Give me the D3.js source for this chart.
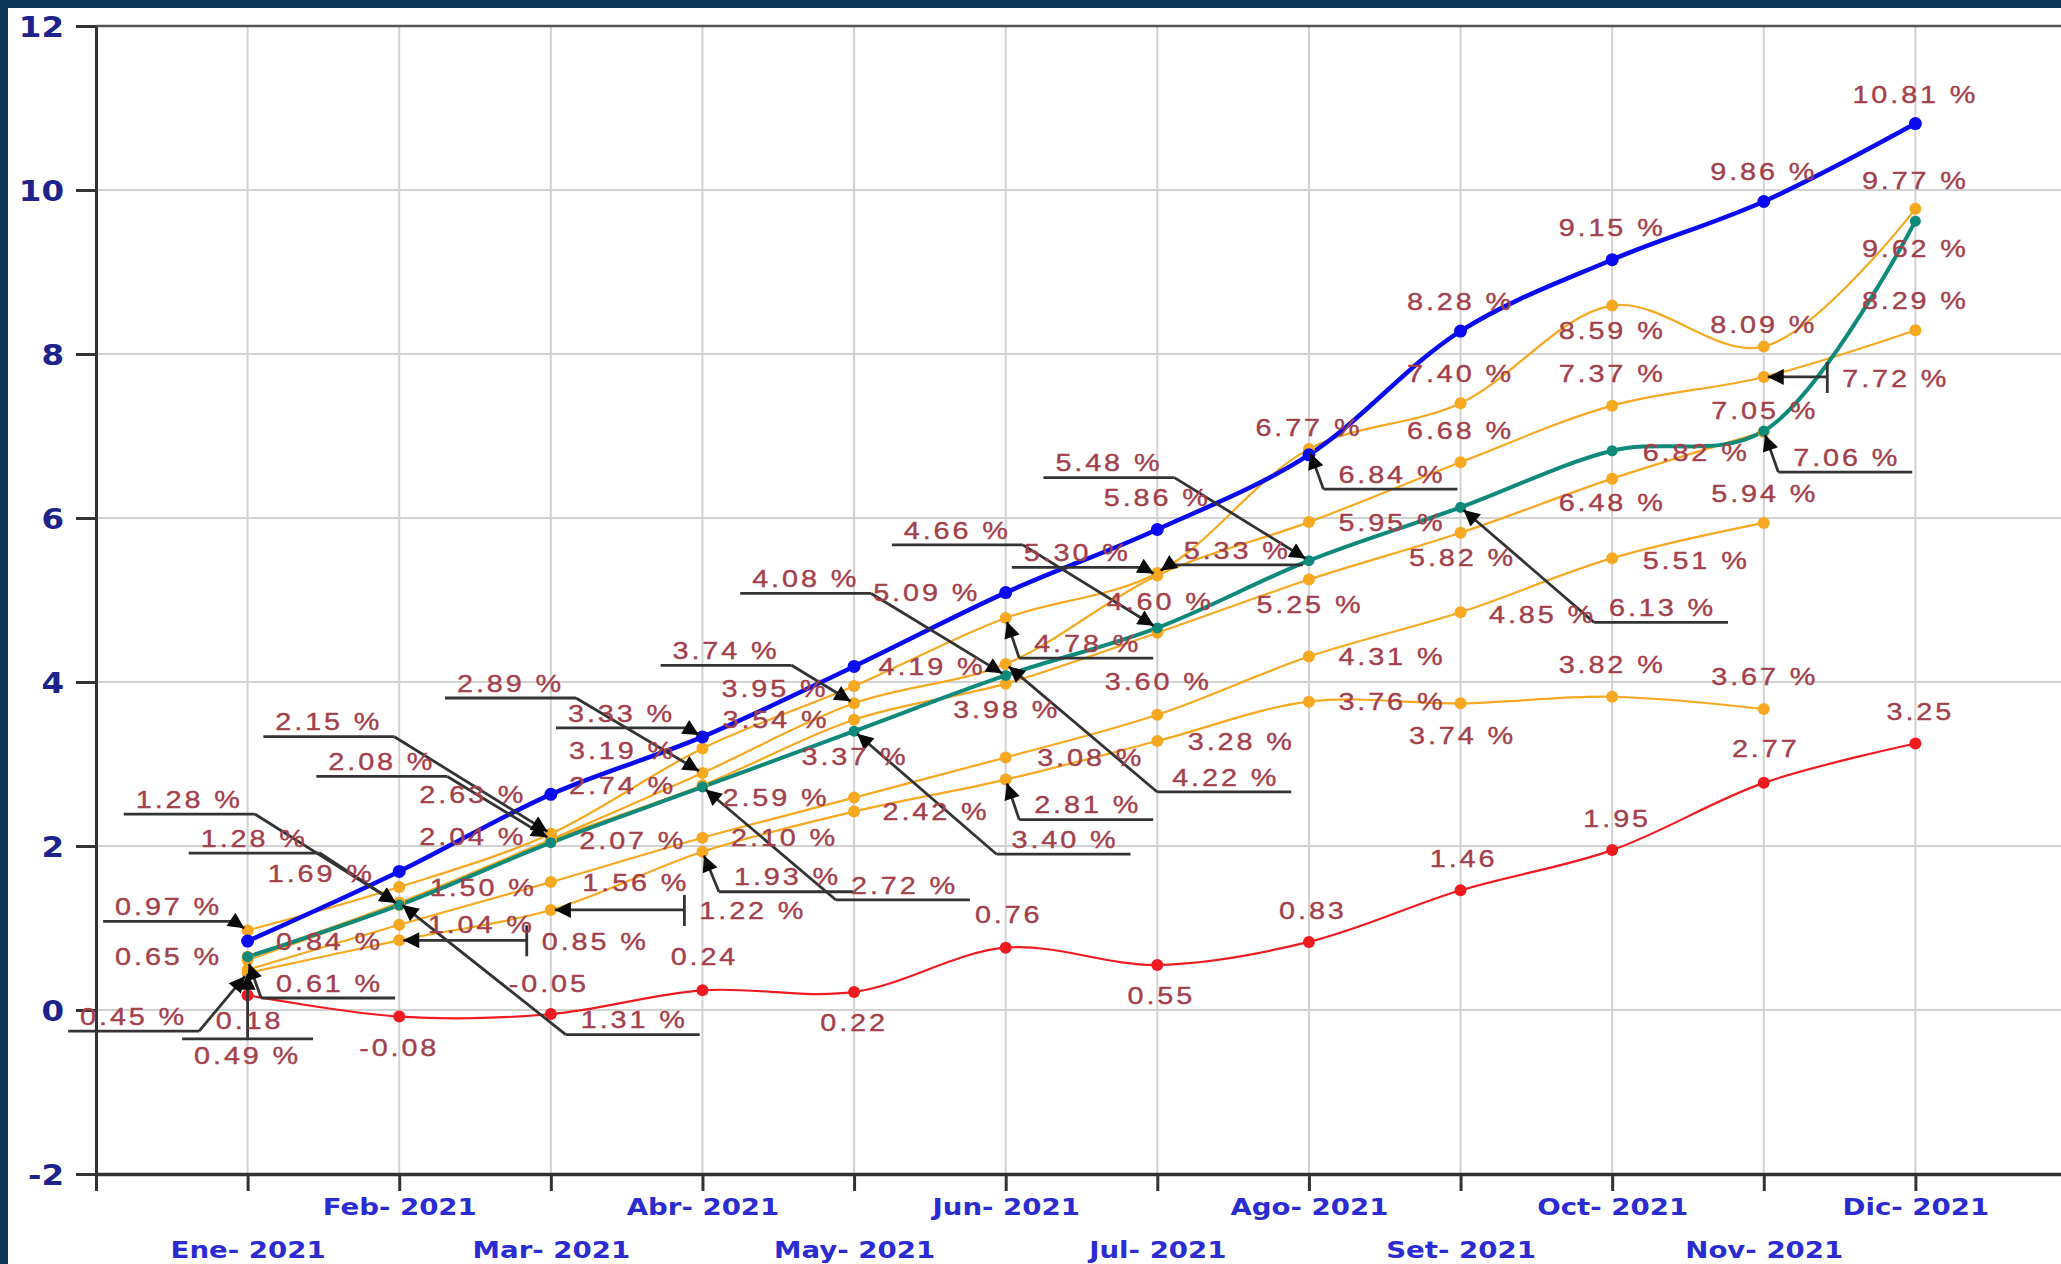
<!DOCTYPE html>
<html><head><meta charset="utf-8">
<script src="https://cdn.jsdelivr.net/npm/d3@7"></script>
<style>html,body{margin:0;padding:0;background:#fff;overflow:hidden}svg{display:block}</style>
</head><body>
<svg id="chart" width="2061" height="1264"></svg>
<script>
// ---------------- DATA ----------------
const months = ["Ene- 2021","Feb- 2021","Mar- 2021","Abr- 2021","May- 2021","Jun- 2021",
                "Jul- 2021","Ago- 2021","Set- 2021","Oct- 2021","Nov- 2021","Dic- 2021"];
const yTickValues = [-2, 0, 2, 4, 6, 8, 10, 12];

const serieAzul     = [0.84, 1.69, 2.63, 3.33, 4.19, 5.09, 5.86, 6.77, 8.28, 9.15, 9.86, 10.81];
const serieVerde    = [0.65, 1.28, 2.04, 2.72, 3.40, 4.08, 4.66, 5.48, 6.13, 6.82, 7.06, 9.62];
const serieRoja     = [0.18, -0.08, -0.05, 0.24, 0.22, 0.76, 0.55, 0.83, 1.46, 1.95, 2.77, 3.25];
const serieNaranja1 = [0.97, 1.50, 2.15, 3.19, 3.95, 4.78, 5.33, 6.84, 7.40, 8.59, 8.09, 9.77];
const serieNaranja2 = [0.65, 1.31, 2.08, 2.89, 3.74, 4.22, 5.30, 5.95, 6.68, 7.37, 7.72, 8.29];
const serieNaranja3 = [0.61, 1.28, 2.07, 2.74, 3.54, 3.98, 4.60, 5.25, 5.82, 6.48, 7.05, null];
const serieNaranja4 = [0.49, 1.04, 1.56, 2.10, 2.59, 3.08, 3.60, 4.31, 4.85, 5.51, 5.94, null];
const serieNaranja5 = [0.45, 0.85, 1.22, 1.93, 2.42, 2.81, 3.28, 3.76, 3.74, 3.82, 3.67, null];

// label texts per series (as printed on the chart)
const textosAzul = ["0.84 %","1.69 %","2.63 %","3.33 %","4.19 %","5.09 %","5.86 %","6.77 %","8.28 %","9.15 %","9.86 %","10.81 %"];
const textosVerde = ["0.65 %","1.28 %","2.04 %","2.72 %","3.40 %","4.08 %","4.66 %","5.48 %","6.13 %","6.82 %","7.06 %","9.62 %"];
const textosRoja = ["0.18","-0.08","-0.05","0.24","0.22","0.76","0.55","0.83","1.46","1.95","2.77","3.25"];
const textosN1 = ["0.97 %","1.50 %","2.15 %","3.19 %","3.95 %","4.78 %","5.33 %","6.84 %","7.40 %","8.59 %","8.09 %","9.77 %"];
const textosN2 = [null,"1.31 %","2.08 %","2.89 %","3.74 %","4.22 %","5.30 %","5.95 %","6.68 %","7.37 %","7.72 %","8.29 %"];
const textosN3 = ["0.61 %","1.28 %","2.07 %","2.74 %","3.54 %","3.98 %","4.60 %","5.25 %","5.82 %","6.48 %","7.05 %",null];
const textosN4 = ["0.49 %","1.04 %","1.56 %","2.10 %","2.59 %","3.08 %","3.60 %","4.31 %","4.85 %","5.51 %","5.94 %",null];
const textosN5 = ["0.45 %","0.85 %","1.22 %","1.93 %","2.42 %","2.81 %","3.28 %","3.76 %","3.74 %","3.82 %","3.67 %",null];
const textosExtra = [["verde", 4, "3.37 %"]];

// ---------------- STYLES / LAYOUT ----------------
const series = [
  {key:"n5", values:serieNaranja5, texts:textosN5, color:"#f6a821", width:2.2, r:6},
  {key:"n4", values:serieNaranja4, texts:textosN4, color:"#f6a821", width:2.2, r:6},
  {key:"n3", values:serieNaranja3, texts:textosN3, color:"#f6a821", width:2.2, r:6},
  {key:"n2", values:serieNaranja2, texts:textosN2, color:"#f6a821", width:2.2, r:6},
  {key:"n1", values:serieNaranja1, texts:textosN1, color:"#f6a821", width:2.2, r:6},
  {key:"roja", values:serieRoja, texts:textosRoja, color:"#f01b20", width:2.2, r:6},
  {key:"verde", values:serieVerde, texts:textosVerde, color:"#0f8a7a", width:4, r:5.5},
  {key:"azul", values:serieAzul, texts:textosAzul, color:"#0b0bf0", width:4.5, r:6.5}
];
const byKey = Object.fromEntries(series.map(s => [s.key, s]));

// label placement: [dx, dy, leaderType] per series & month (pixel offsets of text centre from point)
const layout = {
  azul:  [[82,0,""],[-78,2,""],[-78,0,""],[-81,-24,"ur"],[78,0,""],[-79,0,""],[0,-32,""],[0,-28,""],[0,-30,""],[0,-32,""],[0,-30,""],[0,-29,""]],
  verde: [[-79,0,""],[-145,-67,"ur"],[-78,-6,""],[202,98,"ul"],[211,108,"ul"],[-200,-97,"ur"],[-200,-98,"ur"],[-200,-98,"ur"],[202,100,"ul"],[84,2,""],[83,26,"ul"],[0,27,""]],
  n1:    [[-79,-24,"ur"],[84,0,""],[-222,-112,"ur"],[-80,2,""],[-79,2,""],[82,25,"ul"],[80,-23,"ul"],[83,25,"ul"],[0,-30,""],[0,25,""],[0,-22,""],[0,-29,""]],
  n2:    [null,[235,117,"ul"],[-169,-78,"ur"],[-192,-90,"ur"],[-128,-53,"ur"],[220,113,"ul"],[-80,-23,"ur"],[83,0,""],[0,-32,""],[0,-32,""],[132,1,"br"],[0,-30,""]],
  n3:    [[82,23,"ul"],[-210,-106,"ur"],[82,0,""],[-80,0,""],[-78,0,""],[1,26,""],[3,-31,""],[1,25,""],[2,25,""],[0,24,""],[1,-22,""],null],
  n4:    [[0,86,"om"],[82,0,""],[85,0,""],[82,0,""],[-78,0,""],[85,0,""],[1,-33,""],[83,0,""],[82,2,""],[84,2,""],[1,-30,""],null],
  n5:    [[-114,43,"ur"],[196,1,"br"],[202,0,"br"],[85,25,"ul"],[82,0,""],[82,25,"ul"],[84,0,""],[83,0,""],[2,32,""],[0,-32,""],[1,-33,""],null],
  roja:  [[2,25,""],[0,31,""],[-2,-31,""],[2,-34,""],[0,30,""],[3,-33,""],[4,30,""],[4,-32,""],[3,-32,""],[5,-32,""],[2,-35,""],[5,-32,""]]
};
const layoutExtra = [[1,25,""]];

const W = 2061, H = 1264;
const svg = d3.select("#chart");
svg.append("rect").attr("width", W).attr("height", H).attr("fill", "#ffffff");

const x = d3.scaleLinear().domain([-1, 12]).range([96, 2067]);
const y = d3.scaleLinear().domain([-2, 12]).range([1174, 26]);

const defs = svg.append("defs");
defs.append("marker").attr("id","arrow").attr("viewBox","0 0 10 10")
  .attr("refX",10).attr("refY",5).attr("markerWidth",22).attr("markerHeight",16)
  .attr("markerUnits","userSpaceOnUse").attr("orient","auto")
  .append("path").attr("d","M0,0L10,5L0,10z").attr("fill","#0a0a0a");

// grid
const grid = svg.append("g");
grid.selectAll("line.v").data(d3.range(0, 12)).join("line")
  .attr("x1", d => x(d)).attr("x2", d => x(d))
  .attr("y1", y(12)).attr("y2", y(-2))
  .attr("stroke", "#d2d2d2").attr("stroke-width", 2);
grid.selectAll("line.h").data(yTickValues.filter(v => v > -2 && v < 12)).join("line")
  .attr("x1", x(-1)).attr("x2", W)
  .attr("y1", d => y(d)).attr("y2", d => y(d))
  .attr("stroke", "#d2d2d2").attr("stroke-width", 2);
// top border
svg.append("line").attr("x1", x(-1)).attr("x2", W).attr("y1", y(12)).attr("y2", y(12))
  .attr("stroke", "#555").attr("stroke-width", 2.5);

function stretch(sel, k) {
  sel.each(function () {
    const w = this.getComputedTextLength();
    this.setAttribute("textLength", w * k);
    this.setAttribute("lengthAdjust", "spacingAndGlyphs");
  });
}

// y axis
const yAxis = svg.append("g").attr("transform", `translate(${x(-1)},0)`)
  .call(d3.axisLeft(y).tickValues(yTickValues).tickSize(20).tickSizeOuter(0).tickPadding(12).tickFormat(d => String(d)));
yAxis.select(".domain").attr("stroke", "#333").attr("stroke-width", 3);
yAxis.selectAll(".tick line").attr("stroke", "#333").attr("stroke-width", 3);
yAxis.selectAll(".tick text")
  .attr("font-family", "'DejaVu Sans', Verdana, sans-serif").attr("font-weight", "bold")
  .attr("font-size", 29).attr("fill", "#1c238a").attr("dy", "0.36em")
  .call(stretch, 1.12);

// x axis
const xAxis = svg.append("g").attr("transform", `translate(0,${y(-2)})`)
  .call(d3.axisBottom(x).tickValues(d3.range(-1, 12)).tickSize(17).tickSizeOuter(0)
        .tickFormat(d => d >= 0 ? months[d] : ""));
xAxis.select(".domain").attr("stroke", "#333").attr("stroke-width", 3.5);
xAxis.selectAll(".tick line").attr("stroke", "#333").attr("stroke-width", 3);
xAxis.selectAll(".tick text")
  .attr("font-family", "'DejaVu Sans', Verdana, sans-serif").attr("font-weight", "bold")
  .attr("font-size", 23).attr("fill", "#2b2bd2")
  .attr("y", d => (d % 2 === 1) ? 33 : 76).attr("dy", "0.36em")
  .call(stretch, 1.2);

// lines
const lineGen = d3.line().defined(d => d.v !== null && d.v !== undefined)
  .x(d => x(d.i)).y(d => y(d.v)).curve(d3.curveCatmullRom.alpha(0.5));
const gLines = svg.append("g");
series.forEach(s => {
  gLines.append("path").datum(s.values.map((v, i) => ({i, v})))
    .attr("d", lineGen).attr("fill", "none")
    .attr("stroke", s.color).attr("stroke-width", s.width);
});
const gDots = svg.append("g");
series.forEach(s => {
  gDots.selectAll(null).data(s.values.map((v, i) => ({i, v})).filter(d => d.v !== null))
    .join("circle").attr("cx", d => x(d.i)).attr("cy", d => y(d.v))
    .attr("r", s.r).attr("fill", s.color);
});

// labels
const labels = [];
series.forEach(s => {
  s.texts.forEach((t, i) => {
    const lay = layout[s.key][i];
    if (t && lay && s.values[i] !== null) labels.push({t, i, v: s.values[i], dx: lay[0], dy: lay[1], k: lay[2]});
  });
});
textosExtra.forEach((e, j) => {
  const s = byKey[e[0]];
  labels.push({t: e[2], i: e[1], v: s.values[e[1]], dx: layoutExtra[j][0], dy: layoutExtra[j][1], k: layoutExtra[j][2]});
});

const gLead = svg.append("g").attr("stroke", "#333").attr("stroke-width", 2.8).attr("fill", "none");
const gText = svg.append("g");
const KX = 1.2;

labels.forEach(l => {
  const px = x(l.i), py = y(l.v);
  const cx = px + l.dx, cy = py + l.dy;
  const t = gText.append("text").attr("x", cx).attr("y", cy).attr("dy", "0.36em")
    .attr("text-anchor", "middle")
    .attr("font-family", "'Liberation Sans', Arial, sans-serif").attr("font-size", 24)
    .attr("letter-spacing", 2.4).attr("fill", "#a3404b")
    .attr("stroke", "#a3404b").attr("stroke-width", 0.35).text(l.t);
  const nat = t.node().getComputedTextLength();
  t.attr("textLength", nat * KX).attr("lengthAdjust", "spacingAndGlyphs");
  const w = nat * KX;
  const left = cx - w / 2, right = cx + w / 2;
  function connector(sx, sy) {
    const ang = Math.atan2(py - sy, px - sx);
    const ex = px - Math.cos(ang) * 4, ey = py - Math.sin(ang) * 4;
    gLead.append("path").attr("d", `M${sx},${sy}L${ex},${ey}`).attr("marker-end", "url(#arrow)");
  }
  if (l.k === "ur") {
    const uy = cy + 15;
    gLead.append("path").attr("d", `M${left - 12},${uy}H${right + 12}`);
    connector(right + 12, uy);
  } else if (l.k === "ul") {
    const uy = cy + 15;
    gLead.append("path").attr("d", `M${right + 12},${uy}H${left - 15}`);
    connector(left - 15, uy);
  } else if (l.k === "om") {
    const uy = cy - 17;
    gLead.append("path").attr("d", `M${left - 12},${uy}H${right + 12}`);
    connector(px, uy);
  } else if (l.k === "br") {
    const bx = left - 15;
    gLead.append("path").attr("d", `M${bx},${py - 15}V${py + 16}`);
    connector(bx, py);
  }
});

// outer dark frame (top and left strips)
svg.append("rect").attr("x", 0).attr("y", 0).attr("width", W).attr("height", 8).attr("fill", "#0d3757");
svg.append("rect").attr("x", 0).attr("y", 0).attr("width", 8).attr("height", H).attr("fill", "#0d3757");
</script>
</body></html>
